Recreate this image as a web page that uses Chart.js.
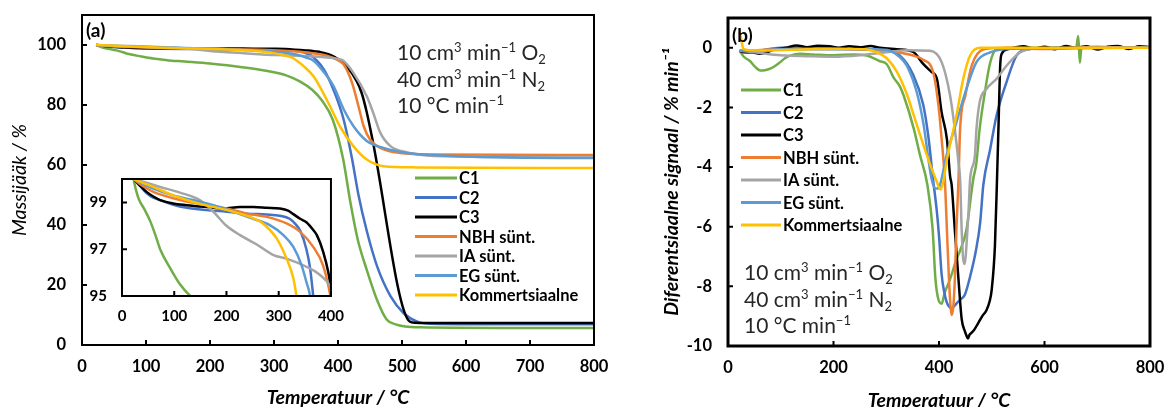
<!DOCTYPE html>
<html>
<head>
<meta charset="utf-8">
<script src="https://cdn.jsdelivr.net/npm/chart.js@4.4.1/dist/chart.umd.min.js"></script>
<style>
  body { margin: 0; background: #fff; }
  #wrap { position: relative; width: 1168px; height: 407px; overflow: hidden; }
  .box { position: absolute; }
</style>
</head>
<body>
<div id="wrap">
  <div class="box" style="left:0;top:0;width:610px;height:409px"><canvas id="tga"></canvas></div>
  <div class="box" style="left:80px;top:170px;width:264px;height:160px"><canvas id="inset"></canvas></div>
  <div class="box" style="left:650px;top:0;width:518px;height:412px"><canvas id="dtg"></canvas></div>
</div>
<script>
// series
const seriesNames = ["C1", "C2", "C3", "NBH sünt.", "IA sünt.", "EG sünt.", "Kommertsiaalne"];
const seriesColors = ["#70AD47", "#4472C4", "#000000", "#ED7D31", "#A5A5A5", "#5B9BD5", "#FFC000"];

// tick labels
const tempTicks = [0, 100, 200, 300, 400, 500, 600, 700, 800];
const massTicks = [0, 20, 40, 60, 80, 100];
const insetTempTicks = [0, 100, 200, 300, 400];
const insetMassTicks = [95, 97, 99];
const dtgTempTicks = [0, 200, 400, 600, 800];
const dtgTicks = [-10, -8, -6, -4, -2, 0];

// TGA: [temperature °C, mass %]
const tgaC1 = [[22,100],[26,99.6],[32,99.15],[43,98.7],[54,98.2],[64,97.6],[73,97.0],[92,96.2],[111,95.5],[133,94.95],[160,94.5],[200,93.8],[250,92.6],[290,91.3],[320,89.8],[341,87.8],[360,85],[375,81.5],[392,75],[408,62],[419,48],[431,35],[445,25],[461,15],[476,8.5],[490,6.9],[505,6.2],[530,5.9],[650,5.7],[800,5.7]];
const tgaC2 = [[22,100],[35,99.7],[47,99.4],[60,99.2],[73,99.1],[98,98.9],[124,98.77],[162,98.67],[200,98.6],[239,98.52],[277,98.48],[302,98.43],[321,98.3],[333,98.05],[341,97.8],[353,97.0],[360,96.2],[366,95.0],[373,93.3],[382,90.3],[395,84],[409,75],[422,62],[432,50],[445,38],[461,26.3],[482,16.3],[503,10.5],[523,7.9],[545,7.1],[650,6.9],[800,6.9]];
const tgaC3 = [[22,100],[35,99.7],[47,99.45],[60,99.25],[73,99.1],[98,98.95],[124,98.88],[162,98.8],[194,98.74],[226,98.8],[251,98.8],[277,98.77],[302,98.74],[318,98.65],[328,98.5],[341,98.3],[353,98.15],[365,97.85],[373,97.6],[385,96.9],[395,96.0],[400,95.3],[413,93],[429,88],[437,84],[445,77.5],[453,69.4],[512,7.8],[520,7.4],[560,7.3],[800,7.3]];
const tgaNBH = [[22,100],[40,99.7],[60,99.45],[79,99.3],[111,99.1],[162,98.88],[200,98.74],[239,98.52],[277,98.38],[315,98.1],[341,97.74],[366,97.1],[385,96.3],[399,95.0],[409,93.5],[422,87.4],[432,79.6],[440,73],[450,68.5],[466,65.7],[497,64.0],[550,63.5],[800,63.3]];
const tgaIA = [[22,100],[45,99.85],[73,99.66],[111,99.42],[149,99.1],[175,98.6],[200,98.0],[226,97.6],[258,97.2],[290,96.75],[315,96.6],[353,96.25],[379,95.9],[399,95.4],[408,94.8],[424,90.7],[445,82.9],[455,77.4],[466,70.8],[482,66.3],[508,64.2],[550,63],[800,62.5]];
const tgaEG = [[22,100],[60,99.59],[98,99.3],[136,99.1],[175,98.88],[213,98.6],[251,98.3],[283,98.03],[309,97.6],[328,97.1],[344,96.3],[353,95.6],[360,95.0],[372,92.5],[393,86.3],[409,78.5],[424,73],[445,68],[471,65.7],[508,64],[560,63.2],[650,62.6],[800,62.3]];
const tgaKomm = [[22,100],[60,99.66],[98,99.3],[136,99.02],[175,98.8],[213,98.6],[245,98.38],[270,98.1],[296,97.46],[315,96.6],[328,95.76],[334,95.0],[345,93.2],[362,89.5],[383,81.5],[404,72.5],[424,66.3],[445,61.8],[471,59.6],[523,59.2],[800,59.0]];

// DTG: [temperature °C, signal % min-1]
const dtgC1 = [[22,-0.1],[30,-0.3],[42,-0.45],[52,-0.65],[61,-0.76],[70,-0.75],[80,-0.7],[90,-0.6],[99,-0.48],[108,-0.35],[118,-0.26],[137,-0.2],[160,-0.22],[200,-0.25],[240,-0.22],[263,-0.26],[288,-0.45],[301,-0.55],[314,-1.0],[326,-1.3],[333,-1.6],[352,-2.7],[364,-3.6],[378,-4.6],[388,-6.1],[393,-7.7],[399,-8.45],[405,-8.58],[411,-8.2],[418,-7.9],[424,-7.6],[433,-7.1],[440,-6.8],[452,-6.1],[465,-4.4],[471,-3.85],[477,-2.73],[486,-1.6],[497,-0.5],[509,-0.05],[540,0],[600,0],[660,0],[664,0.4],[667,-0.5],[670,0],[700,0],[800,0]];
const dtgC2 = [[22,-0.1],[40,-0.15],[60,-0.1],[100,0],[150,0],[200,-0.02],[250,-0.05],[300,-0.1],[326,-0.26],[351,-0.9],[370,-1.9],[380,-3.0],[388,-4.3],[396,-5.5],[400,-6.3],[405,-7.6],[410,-8.2],[415,-8.55],[424,-8.73],[432,-8.6],[440,-8.45],[449,-8.28],[459,-7.67],[470,-6.8],[478,-5.87],[484,-4.6],[497,-3.4],[509,-2.28],[528,-1.15],[547,-0.26],[570,-0.05],[600,0],[700,0.03],[800,0]];
const dtgC3 = [[22,-0.1],[30,-0.15],[45,-0.15],[60,-0.2],[73,-0.15],[90,-0.05],[110,0],[130,0.08],[150,0.02],[170,0.07],[193,0.05],[210,0],[230,0.05],[250,0.02],[270,0.06],[288,0],[320,-0.05],[351,-0.14],[370,-0.54],[385,-0.8],[396,-1.04],[405,-2.17],[415,-3.06],[421,-4.3],[424,-4.6],[430,-6.1],[437,-7.78],[443,-9.1],[449,-9.5],[452,-9.65],[455,-9.75],[458,-9.62],[461,-9.57],[467,-9.45],[474,-9.24],[482,-9.0],[490,-8.8],[496,-8.5],[500,-8.1],[506,-6.65],[510,-4.4],[513,-2.5],[516,-0.6],[519,-0.2],[530,-0.05],[560,0.05],[580,-0.03],[600,0.04],[620,-0.05],[640,0.06],[660,0],[680,0.05],[700,-0.06],[720,0.04],[740,0.06],[760,-0.04],[780,0.05],[800,0.02]];
const dtgNBH = [[22,-0.1],[40,-0.1],[80,-0.05],[150,-0.03],[250,-0.05],[300,-0.1],[351,-0.26],[370,-0.4],[389,-0.82],[399,-1.94],[405,-3.06],[411,-4.4],[415,-6.1],[419,-7.8],[424,-8.96],[427,-8.7],[430,-7.78],[433,-6.1],[437,-4.41],[440,-2.73],[450,-1.6],[462,-0.6],[485,-0.05],[530,0],[600,-0.04],[700,0.03],[800,0]];
const dtgIA = [[22,-0.1],[50,-0.15],[100,-0.25],[150,-0.28],[200,-0.3],[250,-0.25],[300,-0.15],[340,-0.08],[383,-0.1],[405,-0.48],[421,-1.6],[430,-2.73],[437,-3.85],[440,-4.41],[443,-6.1],[446,-7.1],[449,-7.25],[452,-6.65],[456,-5.5],[459,-4.4],[468,-3.63],[471,-2.73],[477,-1.83],[490,-1.38],[509,-1.04],[528,-0.6],[554,-0.15],[580,-0.03],[800,0]];
const dtgEG = [[22,-0.1],[50,-0.1],[100,-0.05],[200,-0.05],[280,-0.05],[307,-0.1],[325,-0.3],[339,-0.6],[358,-1.5],[371,-2.6],[380,-3.74],[386,-4.4],[392,-4.7],[397,-4.72],[402,-4.6],[414,-3.63],[433,-2.5],[452,-1.38],[471,-0.48],[497,-0.15],[540,-0.03],[800,0]];
const dtgKomm = [[22,0.55],[25,0.3],[29,-0.03],[40,-0.08],[73,-0.09],[150,-0.05],[200,-0.03],[260,-0.05],[288,-0.2],[301,-0.35],[320,-0.8],[340,-1.6],[351,-2.2],[377,-3.6],[396,-4.5],[403,-4.75],[408,-4.5],[414,-3.85],[433,-2.28],[446,-1.04],[459,-0.26],[478,0],[800,0]];

const tgaData = [tgaC1, tgaC2, tgaC3, tgaNBH, tgaIA, tgaEG, tgaKomm];
const dtgData = [dtgC1, dtgC2, dtgC3, dtgNBH, dtgIA, dtgEG, dtgKomm];

const condLines = [
    [["10 cm", ""], ["3", "sup"], [" min", ""], ["\u22121", "sup"], [" O", ""], ["2", "sub"]],
    [["40 cm", ""], ["3", "sup"], [" min", ""], ["\u22121", "sup"], [" N", ""], ["2", "sub"]],
    [["10 \u00b0C min", ""], ["\u22121", "sup"]]
];

Chart.defaults.font.family = "Lato, 'Open Sans', sans-serif";
Chart.defaults.color = "#000";

function makeDatasets(data, width) {
    return seriesNames.map((name, i) => ({
        label: name,
        data: data[i].map(p => ({ x: p[0], y: p[1] })),
        borderColor: seriesColors[i],
        borderWidth: width,
        pointRadius: 0,
        cubicInterpolationMode: "monotone",
        order: seriesNames.length - i,
    }));
}

// frame round the plot area, with short inward ticks
const framePlugin = {
    id: "frame",
    beforeDatasetsDraw(chart, args, opts) {
        if (!opts.fill) return;
        const a = chart.chartArea;
        chart.ctx.save();
        chart.ctx.fillStyle = "#fff";
        chart.ctx.fillRect(a.left, a.top, a.right - a.left, a.bottom - a.top);
        chart.ctx.restore();
    },
    afterDatasetsDraw(chart, args, opts) {
        const { ctx, chartArea: a, scales } = chart;
        ctx.save();
        ctx.strokeStyle = "#000";
        ctx.lineWidth = opts.width;
        ctx.strokeRect(a.left, a.top, a.right - a.left, a.bottom - a.top);
        ctx.lineWidth = 2;
        ctx.beginPath();
        scales.x.ticks.forEach(t => {
            const px = scales.x.getPixelForValue(t.value);
            ctx.moveTo(px, a.bottom);
            ctx.lineTo(px, a.bottom - opts.tick);
        });
        scales.y.ticks.forEach(t => {
            const py = scales.y.getPixelForValue(t.value);
            ctx.moveTo(a.left, py);
            ctx.lineTo(a.left + opts.tick, py);
        });
        ctx.stroke();
        ctx.restore();
    }
};

function drawRich(ctx, x, y, parts, size) {
    let cx = x;
    parts.forEach(([txt, kind]) => {
        const s = kind ? size * 0.62 : size;
        ctx.font = s + "px Lato";
        const dy = kind === "sup" ? -size * 0.36 : kind === "sub" ? size * 0.2 : 0;
        ctx.fillText(txt, cx, y + dy);
        cx += ctx.measureText(txt).width;
    });
}

// legend, conditions text and panel letter
const notesPlugin = {
    id: "notes",
    afterDraw(chart, args, opts) {
        const ctx = chart.ctx;
        ctx.save();
        if (opts.key) {
            const k = opts.key;
            ctx.textBaseline = "middle";
            chart.data.datasets.forEach((ds, i) => {
                const y = k.y + i * k.step;
                ctx.strokeStyle = ds.borderColor;
                ctx.lineWidth = 3;
                ctx.beginPath();
                ctx.moveTo(k.x, y);
                ctx.lineTo(k.x + k.len, y);
                ctx.stroke();
                ctx.fillStyle = "#000";
                ctx.font = "bold 16.5px Lato";
                ctx.fillText(ds.label, k.x + k.len + 2, y + 1);
            });
        }
        if (opts.cond) {
            ctx.textBaseline = "alphabetic";
            ctx.fillStyle = "#262626";
            condLines.forEach((line, i) => drawRich(ctx, opts.cond.x, opts.cond.y + i * opts.cond.step, line, 21));
        }
        if (opts.letter) {
            ctx.textBaseline = "middle";
            ctx.fillStyle = "#000";
            ctx.font = "bold 19px Lato";
            ctx.fillText(opts.letter.text, opts.letter.x, opts.letter.y);
        }
        ctx.restore();
    }
};

// tick marks are drawn by the frame plugin; the invisible tick length only spaces the labels
function axis(min, max, ticks, gap, size, extra) {
    return Object.assign({
        type: "linear",
        min: min,
        max: max,
        grid: { display: false, drawTicks: true, tickLength: gap },
        border: { display: false },
        afterBuildTicks: s => { s.ticks = ticks.map(v => ({ value: v })); },
        ticks: { padding: 0, font: { size: size, weight: "bold" } },
    }, extra);
}

const baseOptions = {
    responsive: true,
    maintainAspectRatio: false,
    animation: false,
    events: [],
    plugins: { legend: { display: false }, tooltip: { enabled: false } },
};

// (a) TGA
new Chart(document.getElementById("tga"), {
    type: "line",
    data: { datasets: makeDatasets(tgaData, 2.5) },
    plugins: [framePlugin, notesPlugin],
    options: Object.assign({}, baseOptions, {
        layout: { padding: { top: 15, right: 16, left: 0, bottom: 0 } },
        scales: {
            x: axis(0, 800, tempTicks, 12, 16.5, {
                afterFit: s => { s.height = 64; },
                title: { display: true, text: "Temperatuur / \u00b0C", padding: { top: 0, bottom: 0 }, font: { size: 19.5, weight: "bold", style: "italic" } },
            }),
            y: axis(0, 110, massTicks, 16, 16.5, {
                afterFit: s => { s.width = 82; },
                title: { display: true, text: "Massijääk / %", padding: { top: 8, bottom: 0 }, font: { size: 19.5, style: "italic" } },
            }),
        },
        plugins: Object.assign({}, baseOptions.plugins, {
            frame: { width: 2, tick: 5 },
            notes: {
                key: { x: 415, y: 178, step: 19.5, len: 42 },
                cond: { x: 397, y: 60, step: 26.5 },
                letter: { text: "(a)", x: 86, y: 31 },
            },
        }),
    }),
});

// inset of (a)
new Chart(document.getElementById("inset"), {
    type: "line",
    data: { datasets: makeDatasets(tgaData, 2.5) },
    plugins: [framePlugin],
    options: Object.assign({}, baseOptions, {
        layout: { padding: { top: 7, right: 13, left: 0, bottom: 0 } },
        scales: {
            x: axis(0, 400, insetTempTicks, 11, 15, { afterFit: s => { s.height = 34; } }),
            y: axis(95, 100, insetMassTicks, 15, 15, { afterFit: s => { s.width = 42; } }),
        },
        plugins: Object.assign({}, baseOptions.plugins, {
            frame: { width: 2, tick: 5, fill: true },
        }),
    }),
});

// (b) DTG
new Chart(document.getElementById("dtg"), {
    type: "line",
    data: { datasets: makeDatasets(dtgData, 2.5) },
    plugins: [framePlugin, notesPlugin],
    options: Object.assign({}, baseOptions, {
        layout: { padding: { top: 18, right: 18, left: 0, bottom: 0 } },
        scales: {
            x: axis(0, 800, dtgTempTicks, 12, 16.5, {
                afterFit: s => { s.height = 66; },
                title: { display: true, text: "Temperatuur / \u00b0C", padding: { top: 0, bottom: 0 }, font: { size: 19.5, weight: "bold", style: "italic" } },
            }),
            y: axis(-10, 1, dtgTicks, 16, 16.5, {
                afterFit: s => { s.width = 78; },
                title: { display: true, text: "Diferentsiaalne signaal / % min\u207b\u00b9", padding: { top: 10, bottom: 0 }, font: { size: 19.5, weight: "bold", style: "italic" } },
            }),
        },
        plugins: Object.assign({}, baseOptions.plugins, {
            frame: { width: 3, tick: 5 },
            notes: {
                key: { x: 91, y: 90, step: 22.5, len: 40 },
                cond: { x: 94, y: 280, step: 26.5 },
                letter: { text: "(b)", x: 82, y: 36 },
            },
        }),
    }),
});
</script>
</body>
</html>
